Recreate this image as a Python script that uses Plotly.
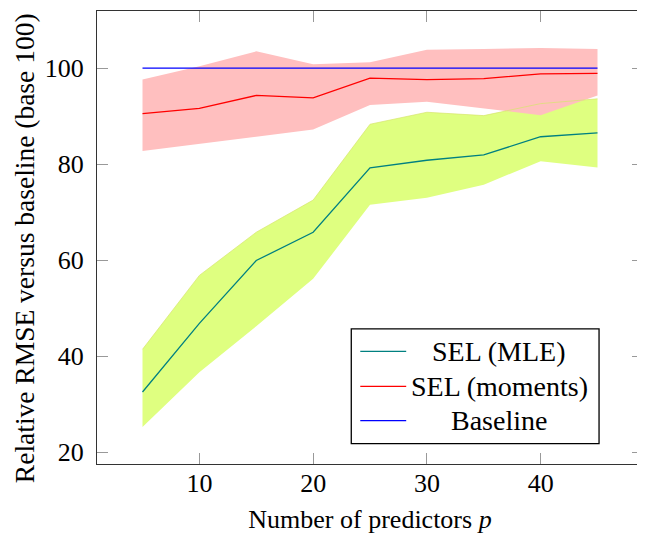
import plotly.graph_objects as go

p = [5, 10, 15, 20, 25, 30, 35, 40, 45]
mle_mean = [32.5, 46.8, 59.9, 65.8, 79.2, 80.8, 81.9, 85.7, 86.5]
mle_upper = [41.4, 56.8, 65.8, 72.5, 88.3, 90.8, 90.1, 92.6, 93.6]
mle_lower = [25.2, 36.6, 46.2, 56.1, 71.5, 73.0, 75.7, 80.6, 79.3]
mom_mean = [90.5, 91.6, 94.3, 93.8, 97.9, 97.6, 97.8, 98.8, 98.9]
mom_upper = [97.6, 100.4, 103.5, 100.8, 101.2, 103.8, 104.0, 104.2, 104.0]
mom_lower = [82.7, 84.2, 85.7, 87.2, 92.3, 93.0, 91.6, 90.2, 94.3]
baseline = [100, 100, 100, 100, 100, 100, 100, 100, 100]

x_ticks = [10, 20, 30, 40]
y_ticks = [20, 40, 60, 80, 100]

series_names = ["SEL (MLE)", "SEL (moments)", "Baseline"]
series_colors = ["#008080", "#FF0000", "#0000FF"]

FONT = "Liberation Serif, Times New Roman, DejaVu Serif, serif"

fig = go.Figure()

# bands
fig.add_trace(go.Scatter(
    x=p + p[::-1], y=mle_upper + mle_lower[::-1], fill="toself",
    fillcolor="#DFFF80", line=dict(width=0), mode="lines",
    showlegend=False, hoverinfo="skip"))
fig.add_trace(go.Scatter(
    x=p + p[::-1], y=mom_upper + mom_lower[::-1], fill="toself",
    fillcolor="#FFBFBF", line=dict(width=0), mode="lines",
    showlegend=False, hoverinfo="skip"))
# faint edge of green band showing through
fig.add_trace(go.Scatter(
    x=p, y=mle_upper, mode="lines",
    line=dict(color="rgba(215,230,110,0.7)", width=1),
    showlegend=False, hoverinfo="skip"))

# lines
for vals, name, col in zip([mle_mean, mom_mean, baseline], series_names, series_colors):
    fig.add_trace(go.Scatter(x=p, y=vals, mode="lines", name=name,
                             line=dict(color=col, width=1.3), showlegend=False))

axis_common = dict(
    showgrid=False, zeroline=False, automargin=False,
    showline=True, linecolor="#333333", linewidth=1.2, mirror="allticks",
    ticks="inside", ticklen=11, tickcolor="#999999", tickwidth=1,
    tickfont=dict(family=FONT, size=26, color="black"),
)

# legend box (drawn in paper coordinates)
lx0, lx1, ly0, ly1 = 0.4657, 0.9195, 0.045, 0.2982
shapes = [dict(type="rect", xref="paper", yref="paper", x0=lx0, x1=lx1, y0=ly0, y1=ly1,
               fillcolor="white", line=dict(color="black", width=1.3), layer="above")]
annotations = []
row_y = [0.2488, 0.1715, 0.0958]
for name, col, ry in zip(series_names, series_colors, row_y):
    shapes.append(dict(type="line", xref="paper", yref="paper", x0=0.4822, x1=0.5663,
                       y0=ry, y1=ry, line=dict(color=col, width=1.3), layer="above"))
    annotations.append(dict(text=name, xref="paper", yref="paper", x=0.7365, y=ry,
                            xanchor="center", yanchor="middle", showarrow=False,
                            font=dict(family=FONT, size=28, color="black")))

# y-axis title
annotations.append(dict(text="Relative RMSE versus baseline (base 100)",
                        xref="paper", yref="paper", x=-0.1327, y=0.4755,
                        xanchor="center", yanchor="middle", textangle=-90,
                        showarrow=False, font=dict(family=FONT, size=27.5, color="black")))

fig.update_layout(
    width=637, height=532,
    margin=dict(l=88.5, r=2, t=3.4, b=75.6),
    paper_bgcolor="white", plot_bgcolor="white",
    font=dict(family=FONT, size=26, color="black"),
    xaxis=dict(range=[1, 49], tickvals=x_ticks, ticklabelstandoff=-4,
               title=dict(text="Number of predictors <i>p</i>",
                          font=dict(family=FONT, size=26, color="black"), standoff=12),
               **axis_common),
    yaxis=dict(range=[17.5, 111.9], tickvals=y_ticks, ticklabelstandoff=7,
               **axis_common),
    shapes=shapes,
    annotations=annotations,
    showlegend=False,
)

fig.write_html("out.html")
